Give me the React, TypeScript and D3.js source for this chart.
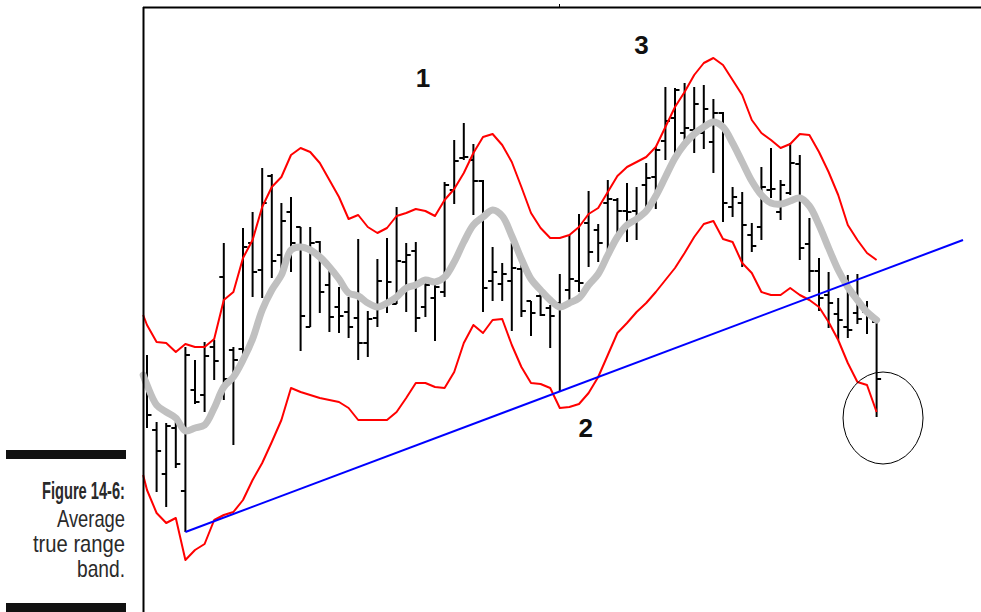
import React from "react";
import * as d3 from "d3";

// OHLC bars (price units)
const highs = [26.5,19.8,19.7,19.8,27.3,26.0,27.8,28.0,37.7,27.3,39.2,40.8,45.2,44.6,41.7,42.3,39.3,39.3,37.9,35.0,33.3,32.3,38.1,30.9,36.1,38.2,41.3,37.7,37.8,33.7,33.5,43.8,48.0,49.7,47.6,44.0,37.3,35.7,37.7,35.5,31.9,32.7,31.5,34.6,38.5,40.6,42.9,39.6,44.0,42.2,43.7,43.3,45.7,47.3,53.3,53.2,53.7,53.3,53.5,52.1,50.8,43.3,42.8,39.7,45.3,47.2,44.0,47.7,46.5,40.2,36.2,34.8,32.2,34.5,34.6,31.9,29.9];
const lows = [19.2,12.8,11.3,15.2,8.8,21.6,20.8,24.0,22.0,17.5,25.5,32.3,32.2,34.2,35.0,34.8,26.9,29.3,30.7,28.8,28.7,28.2,26.0,26.3,29.3,30.7,31.6,30.8,28.8,30.3,27.9,32.3,41.6,46.0,40.5,30.8,31.9,31.9,28.9,30.3,28.4,30.4,27.2,22.8,32.0,32.8,35.3,35.8,36.8,38.3,37.8,38.0,40.9,41.1,46.0,46.5,47.3,46.7,47.1,44.7,39.8,40.3,35.3,36.8,38.0,42.2,40.0,42.5,36.0,32.8,30.9,29.2,28.0,28.2,29.6,28.6,20.3];
const opens = [24.0,19.0,14.6,19.2,12.9,23.0,22.5,27.3,34.3,27.0,27.1,37.7,35.0,44.4,36.5,40.8,39.3,29.3,37.8,33.5,31.3,30.8,30.2,27.7,30.2,31.5,31.6,35.8,36.9,31.3,32.2,32.8,43.0,46.2,46.0,43.9,33.9,33.6,33.9,35.1,31.9,32.4,31.2,31.7,33.0,33.9,39.7,39.0,41.7,42.0,40.9,40.9,43.5,44.3,47.9,50.2,48.7,49.0,48.7,47.8,50.7,41.3,41.7,38.5,39.3,43.0,40.8,42.7,45.6,37.6,34.9,32.5,30.6,29.3,30.7,30.8,29.8];
const closes = [20.5,16.9,19.4,15.6,26.5,21.8,26.4,25.9,24.1,26.0,37.3,34.8,41.7,35.9,39.9,37.7,30.4,37.7,32.8,30.3,30.4,29.3,27.7,30.1,33.9,33.8,35.9,36.5,30.2,33.5,33.3,43.5,45.9,46.3,43.9,33.2,34.8,34.6,35.2,30.9,30.7,30.5,30.4,31.2,34.1,33.7,36.8,37.7,42.1,40.9,40.8,40.4,44.2,47.0,49.9,53.0,49.2,51.6,51.1,50.7,41.7,42.3,39.5,37.4,43.3,43.1,43.5,45.7,37.2,34.9,32.2,31.7,30.0,29.0,30.1,30.4,24.1];

// Moving average and average-true-range bands (one value per bar)
const movingAverage = [23.5,21.5,20.8,20.2,18.9,19.2,19.5,21.2,23.3,24.3,26.0,28.1,31.0,33.0,34.5,37.0,37.3,37.0,36.3,35.3,34.1,32.7,32.4,31.7,31.3,31.7,32.3,33.2,33.5,34.0,33.8,34.3,35.8,37.8,39.5,40.3,41.0,40.4,38.4,36.1,34.1,33.0,32.0,31.3,31.7,32.2,33.5,34.6,36.5,38.3,39.5,40.1,40.9,42.4,44.3,46.2,47.6,48.6,49.3,49.8,49.3,47.7,45.8,43.9,42.5,41.7,41.6,41.9,42.2,41.4,39.5,37.2,35.0,33.3,32.0,30.8,30.0];
const upperBand = [29.5,27.8,27.7,26.8,27.6,27.3,27.3,28.1,32.0,32.8,36.2,38.0,41.3,43.3,44.3,46.5,47.2,46.8,45.7,44.0,42.3,40.1,40.5,39.3,38.7,39.2,40.4,40.7,41.1,40.9,40.4,42.0,43.1,44.7,46.7,48.3,48.6,47.5,45.8,43.3,40.7,39.2,38.2,38.2,38.5,39.3,40.6,41.2,42.8,44.4,45.3,45.8,46.3,47.3,49.3,51.3,52.8,54.5,55.7,56.2,55.5,54.0,52.5,50.0,48.7,48.0,47.2,47.6,48.6,48.5,46.8,44.8,42.5,39.5,38.0,36.7,36.0];
const lowerBand = [13.0,10.7,9.7,10.2,6.0,7.0,7.6,10.0,10.5,10.8,12.0,14.0,15.7,17.8,20.0,23.2,22.8,22.5,22.2,22.0,21.8,21.2,20.0,20.0,20.0,20.0,20.8,22.2,23.7,23.7,23.3,23.2,24.8,27.7,29.5,28.7,30.0,30.1,27.5,25.3,23.7,23.6,23.2,21.2,21.3,21.6,22.7,24.3,26.5,28.7,29.7,30.8,31.7,32.8,34.0,35.2,36.7,38.3,39.6,39.9,38.1,37.8,35.7,34.7,32.8,32.5,32.5,33.2,32.5,32.0,31.3,29.8,28.0,25.7,23.8,23.5,20.8];
// values where the lines enter the chart at its left edge
const leadIdx = -0.4;
const leadUpper = 30.5;
const leadLower = 14.5;
const leadMA = 24.5;

// Trendline (bar index, price)
const trendIdx = [4, 85];
const trendVal = [8.8, 38.0];

// Annotations
const labelText = ["1", "2", "3"];
const labelIdx = [28.75, 45.7, 51.5];
const labelVal = [54.0, 19.0, 57.3];
const circleIdx = 76.67;
const circleVal = 20.2;

const captionLines = ["Figure 14-6:", "Average", "true range", "band."];

const W = 981;
const H = 612;

export default function App() {
  const n = highs.length;
  const x = d3.scaleLinear().domain([0, n - 1]).range([147, 876.6]);
  const y = d3.scaleLinear().domain([0, 62]).range([620, 0]);
  const idx = d3.range(n);

  const mk = (lead: number, vals: number[]) =>
    [[leadIdx, lead] as [number, number]].concat(idx.map((i) => [i, vals[i]] as [number, number]));

  const lineGen = d3
    .line<[number, number]>()
    .x((d) => x(d[0]))
    .y((d) => y(d[1]));
  const upperPath = lineGen(mk(leadUpper, upperBand));
  const lowerPath = lineGen(mk(leadLower, lowerBand));
  const maPath = d3
    .line<[number, number]>()
    .x((d) => x(d[0]))
    .y((d) => y(d[1]))
    .curve(d3.curveCatmullRom)(mk(leadMA, movingAverage));

  const tick = 4.5;
  const capFont = "'Liberation Sans Narrow', 'Arial Narrow', 'Liberation Sans', Arial, sans-serif";

  return (
    <svg
      width={W}
      height={H}
      style={{ position: "absolute", left: 0, top: 0, background: "#fff" }}
    >
      {/* caption */}
      <rect x={6} y={450} width={120} height={9} fill="#111" />
      <rect x={6} y={603} width={120} height={9} fill="#111" />
      <text x={125} y={499} textAnchor="end" fontFamily={capFont} fontWeight="bold" fontSize={24} fill="#2a2a2a" textLength={83} lengthAdjust="spacingAndGlyphs">{captionLines[0]}</text>
      <text x={125} y={527} textAnchor="end" fontFamily={capFont} fontSize={24} fill="#2a2a2a" textLength={68} lengthAdjust="spacingAndGlyphs">{captionLines[1]}</text>
      <text x={125} y={552} textAnchor="end" fontFamily={capFont} fontSize={24} fill="#2a2a2a" textLength={92} lengthAdjust="spacingAndGlyphs">{captionLines[2]}</text>
      <text x={125} y={577} textAnchor="end" fontFamily={capFont} fontSize={24} fill="#2a2a2a" textLength={48} lengthAdjust="spacingAndGlyphs">{captionLines[3]}</text>

      {/* OHLC bars */}
      <g stroke="#000" strokeWidth={2}>
        {idx.map((i) => (
          <g key={i}>
            <line x1={x(i)} x2={x(i)} y1={y(highs[i])} y2={y(lows[i])} />
            <line x1={x(i) - tick} x2={x(i)} y1={y(opens[i])} y2={y(opens[i])} />
            <line x1={x(i)} x2={x(i) + tick} y1={y(closes[i])} y2={y(closes[i])} />
          </g>
        ))}
      </g>

      {/* bands */}
      <path d={upperPath || ""} fill="none" stroke="#ff0000" strokeWidth={2} strokeLinejoin="round" />
      <path d={lowerPath || ""} fill="none" stroke="#ff0000" strokeWidth={2} strokeLinejoin="round" />

      {/* moving average */}
      <path d={maPath || ""} fill="none" stroke="#c0c0c0" strokeWidth={7} strokeLinejoin="round" strokeLinecap="round" />

      {/* trend line */}
      <line
        x1={x(trendIdx[0])}
        y1={y(trendVal[0])}
        x2={x(trendIdx[1])}
        y2={y(trendVal[1])}
        stroke="#0000ff"
        strokeWidth={2}
      />

      {/* frame */}
      <line x1={143.5} y1={7} x2={143.5} y2={H} stroke="#000" strokeWidth={2} />
      <line x1={143} y1={7.5} x2={W} y2={7.5} stroke="#000" strokeWidth={2} />
      <line x1={559.5} y1={4} x2={559.5} y2={8} stroke="#000" strokeWidth={1} />

      {/* circle */}
      <ellipse cx={x(circleIdx)} cy={y(circleVal)} rx={40} ry={46} fill="none" stroke="#000" strokeWidth={1} />

      {/* labels */}
      {labelText.map((t, k) => (
        <text
          key={t}
          x={x(labelIdx[k])}
          y={y(labelVal[k])}
          textAnchor="middle"
          dominantBaseline="middle"
          fontFamily="'Liberation Sans', Arial, sans-serif"
          fontWeight="bold"
          fontSize={26}
          fill="#111"
        >
          {t}
        </text>
      ))}
    </svg>
  );
}
